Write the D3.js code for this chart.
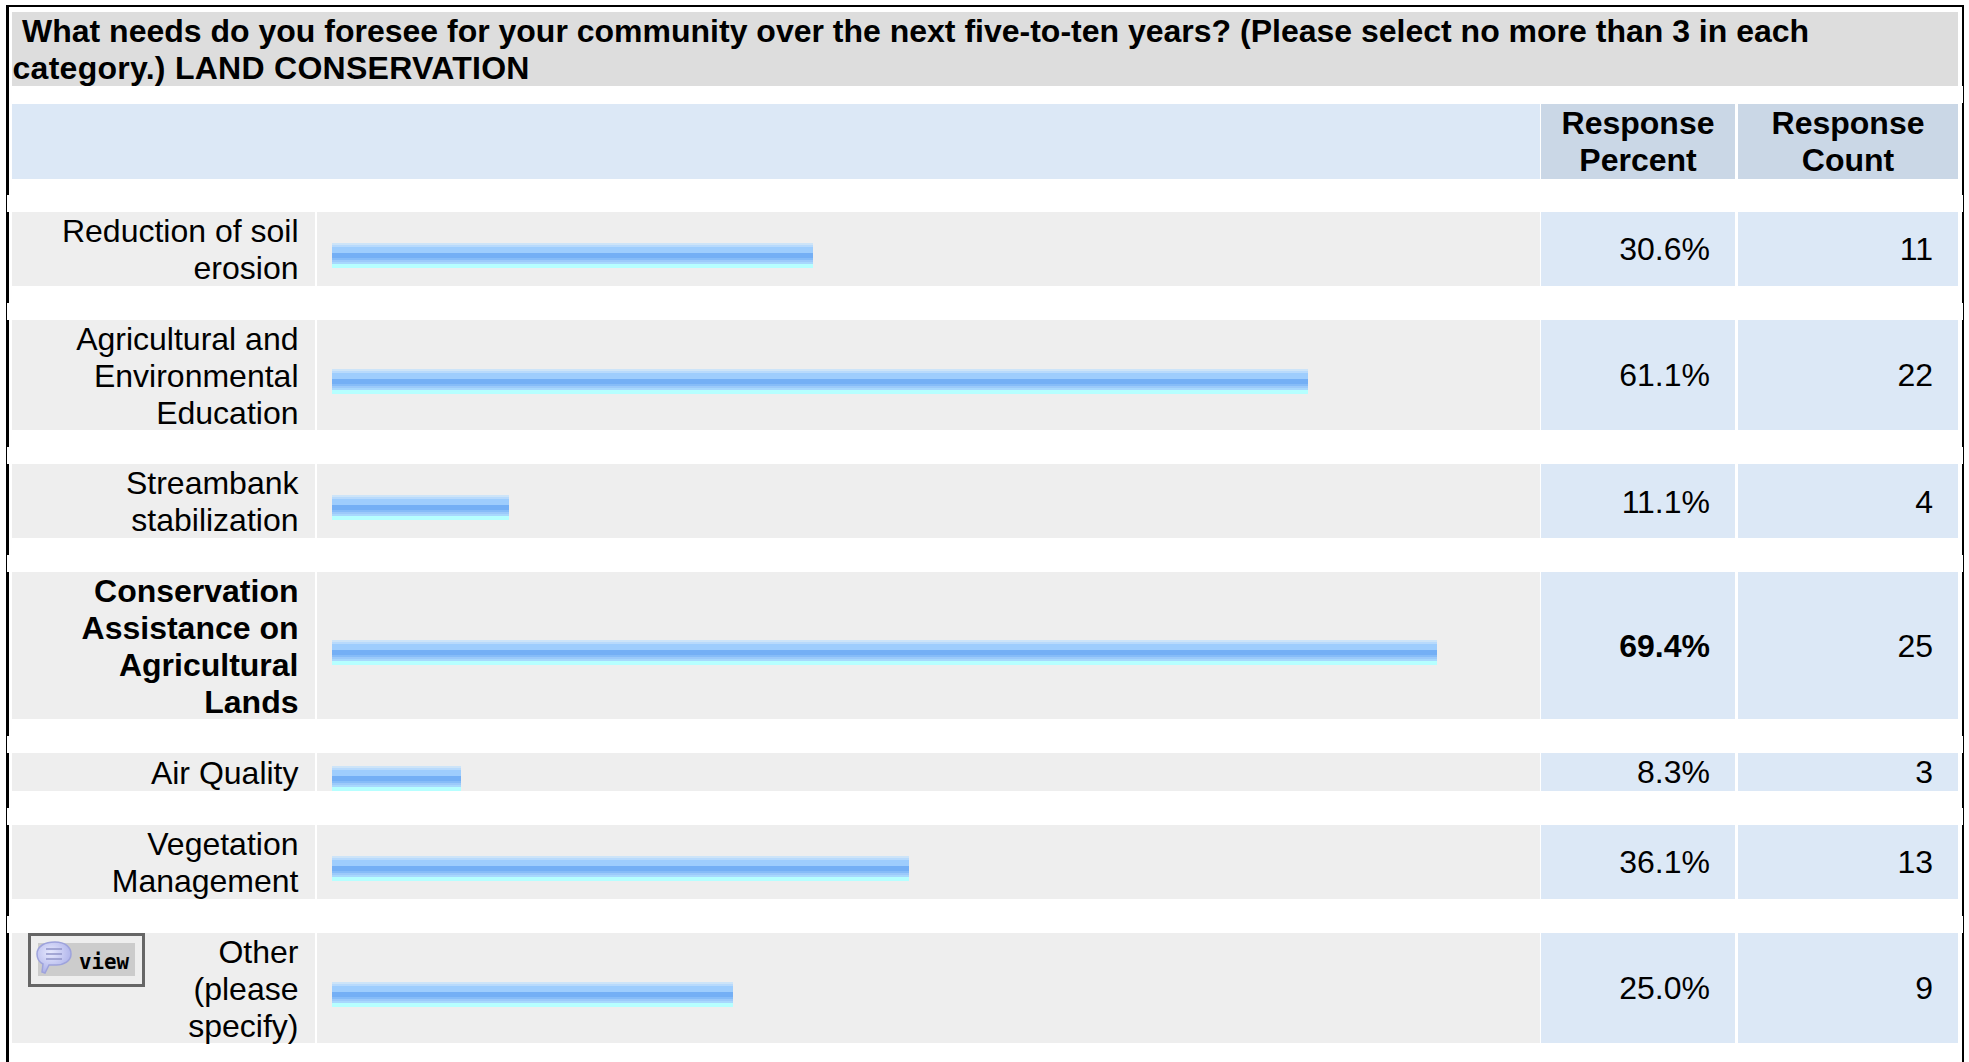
<!DOCTYPE html>
<html lang="en">
<head>
<meta charset="utf-8">
<script src="https://d3js.org/d3.v7.min.js"></script>
<style>
    html, body { margin: 0; padding: 0; background: #fff; overflow: hidden; }
    svg { display: block; }
    text { font-family: "Liberation Sans", Arial, sans-serif; font-size: 32px; fill: #000; }
    .bold { font-weight: bold; }
    rect { shape-rendering: crispEdges; }
</style>
</head>
<body>
<svg id="chart" width="1969" height="1062"></svg>
<script>
    // data
    var titleLines = [
        "What needs do you foresee for your community over the next five-to-ten years? (Please select no more than 3 in each",
        "category.) LAND CONSERVATION"
    ];
    var columnHeaders = [["Response", "Percent"], ["Response", "Count"]];
    var categories = [
        ["Reduction of soil", "erosion"],
        ["Agricultural and", "Environmental", "Education"],
        ["Streambank", "stabilization"],
        ["Conservation", "Assistance on", "Agricultural", "Lands"],
        ["Air Quality"],
        ["Vegetation", "Management"],
        ["Other", "(please", "specify)"]
    ];
    var percents = [30.6, 61.1, 11.1, 69.4, 8.3, 36.1, 25.0];
    var counts = [11, 22, 4, 25, 3, 13, 9];
    // bar lengths, in percent
    var barLengths = [30.25, 61.4, 11.13, 69.47, 8.11, 36.26, 25.22];
    var boldRow = 3;
    var buttonLabel = "view";

    // layout
    var tableLeft = 12, tableRight = 1958;
    var labelRight = 315, barCellLeft = 317, barCellRight = 1540;
    var pctLeft = 1541, pctRight = 1735, countLeft = 1738;
    var firstRowTop = 212, rowGap = 34, lineHeight = 36.5, barHeight = 25;

    var svg = d3.select("#chart");
    var x = d3.scaleLinear().domain([0, 100]).range([332, 1922]);
    var fmt = d3.format(".1f");

    // row boxes are worked out from the number of text lines
    var rows = [], rowY = firstRowTop;
    categories.forEach(function(lines, i) {
        var h = lines.length * lineHeight + 1;
        var rowTop = Math.floor(rowY);
        rows.push({
            lines: lines, top: rowTop, h: Math.floor(rowY + h) - rowTop,
            mid: rowY + h / 2, pct: percents[i], count: counts[i],
            bar: barLengths[i], bold: i === boldRow
        });
        rowY += h + rowGap;
    });

    var defs = svg.append("defs");

    // bar gradient, hard bands
    var bands = [[2, "#cde4f8"], [2, "#b8dafc"], [6, "#9ecdfd"], [5, "#74aff5"],
                 [2, "#86bcf8"], [2, "#9ccafa"], [2, "#a8d8fd"], [4, "#b6ffff"]];
    var grad = defs.append("linearGradient")
        .attr("id", "barFill").attr("x1", 0).attr("y1", 0).attr("x2", 0).attr("y2", 1);
    var sum = 0;
    bands.forEach(function(b) {
        grad.append("stop").attr("offset", sum / barHeight).attr("stop-color", b[1]);
        sum += b[0];
        grad.append("stop").attr("offset", sum / barHeight).attr("stop-color", b[1]);
    });

    var bubble = defs.append("radialGradient").attr("id", "bubbleFill")
        .attr("cx", 0.4).attr("cy", 0.35).attr("r", 0.7);
    bubble.append("stop").attr("offset", 0).attr("stop-color", "#e6e8fd");
    bubble.append("stop").attr("offset", 1).attr("stop-color", "#a8ade8");

    // outer frame, broken in the white gaps
    var frame = svg.append("g");
    frame.append("rect").attr("x", 6).attr("y", 5).attr("width", 1958).attr("height", 2).attr("fill", "#000");
    frame.append("rect").attr("x", 6).attr("y", 5).attr("width", 3).attr("height", 1057).attr("fill", "#000");
    frame.append("rect").attr("x", 1962).attr("y", 5).attr("width", 2).attr("height", 1057).attr("fill", "#000");
    var gapTops = [195].concat(rows.slice(1).map(function(r) { return r.top - 17; }));
    frame.selectAll(".gap").data(gapTops).join("rect")
        .attr("class", "gap").attr("x", 7).attr("y", function(d) { return d; })
        .attr("width", 2).attr("height", 17).attr("fill", "#fff");
    frame.selectAll(".gapr").data([86].concat(gapTops)).join("rect")
        .attr("class", "gapr").attr("x", 1962).attr("y", function(d) { return d; })
        .attr("width", 1).attr("height", 17).attr("fill", "#fff");

    // title
    svg.append("rect").attr("x", tableLeft).attr("y", 12).attr("width", tableRight - tableLeft).attr("height", 74).attr("fill", "#dddddd");
    svg.append("text").attr("class", "bold").attr("x", 22).attr("y", 42).text(titleLines[0]);
    svg.append("text").attr("class", "bold").attr("x", 12.5).attr("y", 79)
        .style("letter-spacing", "0.27px").text(titleLines[1]);

    // column headers
    svg.append("rect").attr("x", tableLeft).attr("y", 104).attr("width", barCellRight - tableLeft).attr("height", 75).attr("fill", "#dce8f6");
    [[pctLeft, pctRight], [countLeft, tableRight]].forEach(function(c, i) {
        svg.append("rect").attr("x", c[0]).attr("y", 104).attr("width", c[1] - c[0]).attr("height", 75).attr("fill", "#cad7e6");
        columnHeaders[i].forEach(function(t, j) {
            svg.append("text").attr("class", "bold")
                .attr("x", i === 0 ? 1638 : 1848).attr("y", 134 + j * 37)
                .attr("text-anchor", "middle").text(t);
        });
    });

    // rows
    var row = svg.selectAll(".row").data(rows).join("g").attr("class", "row");

    function cell(l, r, color) {
        row.append("rect").attr("x", l)
            .attr("y", function(d) { return d.top; })
            .attr("width", r - l)
            .attr("height", function(d) { return d.h; })
            .attr("fill", color);
    }
    cell(tableLeft, labelRight, "#eeeeee");
    cell(barCellLeft, barCellRight, "#eeeeee");
    cell(pctLeft, pctRight, "#dce8f6");
    cell(countLeft, tableRight, "#dce8f6");

    row.append("rect")
        .attr("x", x(0))
        .attr("y", function(d) { return Math.floor(d.mid + 6.5 - barHeight / 2); })
        .attr("width", function(d) { return x(d.bar) - x(0); })
        .attr("height", barHeight)
        .attr("fill", "url(#barFill)");

    row.each(function(d) {
        var g = d3.select(this);
        var base = d.mid + 11.3 - (d.lines.length - 1) * 37 / 2;
        d.lines.forEach(function(t, j) {
            g.append("text").attr("class", d.bold ? "bold" : null)
                .attr("x", 298.5).attr("y", base + j * 37)
                .attr("text-anchor", "end").text(t);
        });
    });

    row.append("text")
        .attr("class", function(d) { return d.bold ? "bold" : null; })
        .attr("x", 1710).attr("y", function(d) { return d.mid + 11; })
        .attr("text-anchor", "end")
        .text(function(d) { return fmt(d.pct) + "%"; });

    row.append("text")
        .attr("x", 1933).attr("y", function(d) { return d.mid + 11; })
        .attr("text-anchor", "end")
        .text(function(d) { return d.count; });

    // view button on the last row
    var btn = svg.append("g").attr("transform", "translate(28," + rows[6].top + ")");
    btn.append("rect").attr("x", 1.5).attr("y", 1.5).attr("width", 114).attr("height", 51)
        .attr("fill", "#eeeeee").attr("stroke", "#666666").attr("stroke-width", 3);
    btn.append("rect").attr("x", 10).attr("y", 10).attr("width", 97).attr("height", 33).attr("fill", "#cccccc");
    btn.append("path")
        .attr("d", "M9,21 C9,13 17,9 27,9 C37,9 43,14 43,21 C43,28 36,32 28,32 L21,32 L17,40 L14,39 L15,31 C11,29 9,25 9,21 Z")
        .attr("fill", "url(#bubbleFill)").attr("stroke", "#9ea3dc").attr("stroke-width", 1.5);
    btn.selectAll(".ln").data([16, 21, 26]).join("line")
        .attr("class", "ln")
        .attr("x1", 18).attr("x2", 34)
        .attr("y1", function(d) { return d; }).attr("y2", function(d) { return d; })
        .attr("stroke", "#9094c8").attr("stroke-width", 1.5);
    btn.append("text")
        .attr("x", 51).attr("y", 36)
        .style("font-family", '"DejaVu Sans Mono", monospace')
        .style("font-size", "20.8px")
        .style("font-weight", "bold")
        .text(buttonLabel);
</script>
</body>
</html>
